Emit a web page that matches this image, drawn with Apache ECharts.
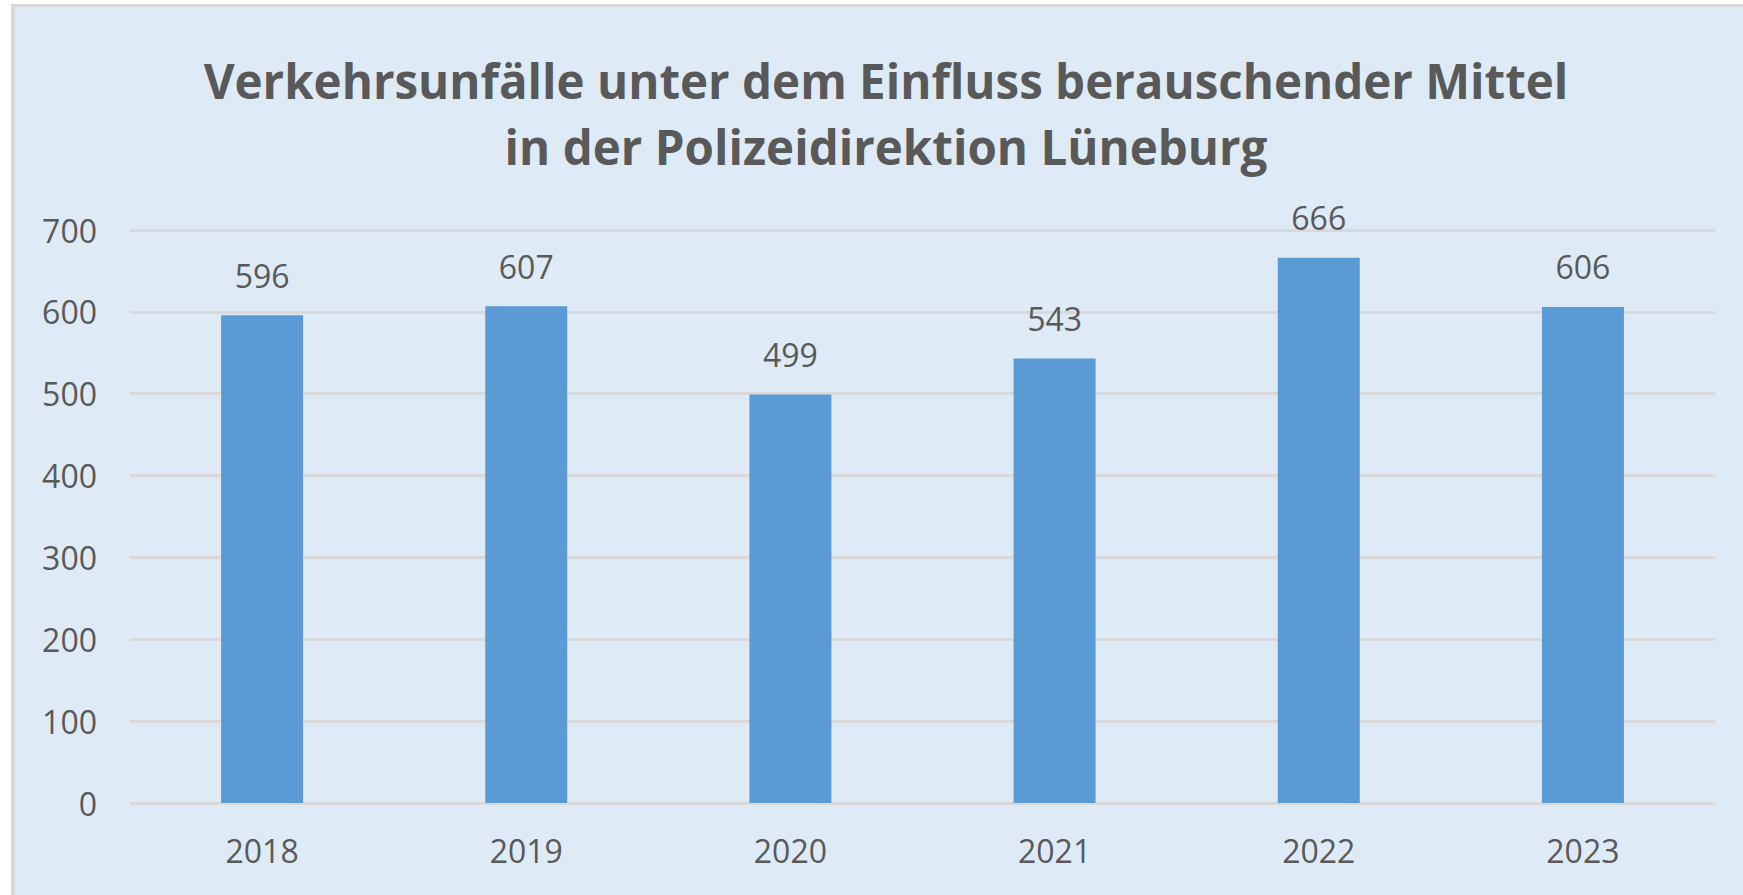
<!DOCTYPE html>
<html>
<head>
<meta charset="utf-8">
<script src="https://cdn.jsdelivr.net/npm/echarts@6/dist/echarts.min.js"></script>
<style>
  html, body { margin: 0; padding: 0; background: #ffffff; width: 1743px; height: 895px; overflow: hidden; }
  #bg { position: absolute; left: 11px; top: 4px; width: 1728px; height: 891px; background: #DEEBF7; border-left: 4px solid #D9D9D9; border-top: 3px solid #D9D9D9; }
  #chart { position: absolute; left: 0; top: 0; width: 1743px; height: 895px; }
</style>
</head>
<body>
<div id="bg"></div>
<div id="chart"></div>
<script>
const titleLines = ['Verkehrsunfälle unter dem Einfluss berauschender Mittel', 'in der Polizeidirektion Lüneburg'];
const categories = ['2018', '2019', '2020', '2021', '2022', '2023'];
const values = [596, 607, 499, 543, 666, 606];
const yTicks = [0, 100, 200, 300, 400, 500, 600, 700];

const FONT = '"Open Sans", "Noto Sans", sans-serif';
const TEXT = '#595959';

const chart = echarts.init(document.getElementById('chart'), null, { renderer: 'svg' });
chart.setOption({
  backgroundColor: 'transparent',
  animation: false,
  textStyle: { fontFamily: FONT },
  graphic: [{
    type: 'text',
    x: 886,
    y: 47,
    style: {
      text: titleLines.join('\n'),
      fontFamily: FONT,
      fontSize: 47.5,
      fontWeight: 'bold',
      lineHeight: 66,
      fill: TEXT,
      textAlign: 'center',
      textVerticalAlign: 'top'
    }
  }],
  grid: { left: 130, right: 28, top: 230, bottom: 92, containLabel: false },
  xAxis: {
    type: 'category',
    data: categories,
    axisLine: { show: false },
    axisTick: { show: false },
    axisLabel: { color: TEXT, fontSize: 32, fontFamily: FONT, margin: 31 }
  },
  yAxis: {
    type: 'value',
    min: yTicks[0],
    max: yTicks[yTicks.length - 1],
    interval: yTicks[1] - yTicks[0],
    axisLine: { show: false },
    axisTick: { show: false },
    axisLabel: { color: TEXT, fontSize: 32, fontFamily: FONT, margin: 33 },
    splitLine: { show: true, lineStyle: { color: '#D9D9D9', width: 3 } }
  },
  series: [{
    type: 'bar',
    data: values,
    barWidth: 82,
    itemStyle: { color: '#5B9BD5' },
    label: {
      show: true,
      position: 'top',
      distance: 24,
      color: TEXT,
      fontSize: 32,
      fontFamily: FONT
    }
  }]
});
</script>
</body>
</html>
